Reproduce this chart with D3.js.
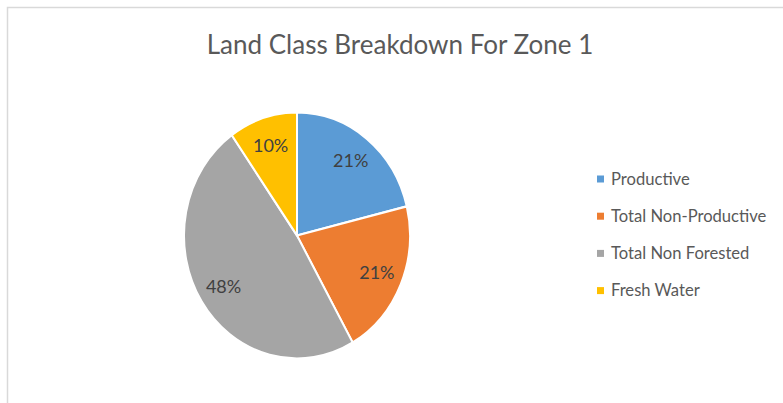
<!DOCTYPE html>
<html>
<head>
<meta charset="utf-8">
<script src="https://cdn.jsdelivr.net/npm/d3@7"></script>
<style>
  body { margin: 0; background: #fff; }
  svg { display: block; font-family: Lato, "Open Sans", sans-serif; }
</style>
</head>
<body>
<script>
// land class shares for zone 1 (percent)
var categories = ["Productive", "Total Non-Productive", "Total Non Forested", "Fresh Water"];
var shares = [21.2, 20.6, 48.4, 9.8];
var colors = ["#5B9BD5", "#ED7D31", "#A5A5A5", "#FFC000"];
var title = "Land Class Breakdown For Zone 1";

var width = 783, height = 403;
var cx = 297, cy = 235.5;
var radius = 113;
var stretch = 123 / 113; // the picture is a bit taller than wide
var labelRadius = 87;

var svg = d3.select("body").append("svg").attr("width", width).attr("height", height);

// chart area border, runs off the right and bottom
svg.append("rect").attr("x", 7.5).attr("y", 7.5).attr("width", 800).attr("height", 420)
  .attr("fill", "#fff").attr("stroke", "#D9D9D9").attr("stroke-width", 1.5);

svg.append("text").attr("x", 400).attr("y", 54).attr("text-anchor", "middle")
  .style("font-size", "26px").attr("fill", "#595959").text(title);

var pie = d3.pie().sort(null);
var arc = d3.arc().innerRadius(0).outerRadius(radius);
var labelArc = d3.arc().innerRadius(labelRadius).outerRadius(labelRadius);

var g = svg.append("g").attr("transform", "translate(" + cx + "," + cy + ") scale(1," + stretch + ")");
g.selectAll("path").data(pie(shares)).enter().append("path")
  .attr("d", arc)
  .attr("fill", function (d, i) { return colors[i]; })
  .attr("stroke", "#fff").attr("stroke-width", 2);

// percentage labels
svg.selectAll("text.pct").data(pie(shares)).enter().append("text")
  .attr("class", "pct")
  .attr("transform", function (d) {
    var c = labelArc.centroid(d);
    return "translate(" + (cx + c[0]) + "," + (cy + c[1] * stretch) + ")";
  })
  .attr("dy", "0.35em").attr("text-anchor", "middle")
  .style("font-size", "18px").attr("fill", "#404040")
  .text(function (d) { return Math.round(d.data) + "%"; });

// legend
var legend = svg.selectAll(".legend").data(categories).enter().append("g")
  .attr("class", "legend")
  .attr("transform", function (d, i) { return "translate(597," + (179 + i * 37.2) + ")"; });
legend.append("rect").attr("x", 0).attr("y", -3.5).attr("width", 7).attr("height", 7)
  .attr("fill", function (d, i) { return colors[i]; });
legend.append("text").attr("x", 14).attr("dy", "0.35em")
  .style("font-size", "16.6px").attr("fill", "#595959")
  .text(function (d) { return d; });
</script>
</body>
</html>
